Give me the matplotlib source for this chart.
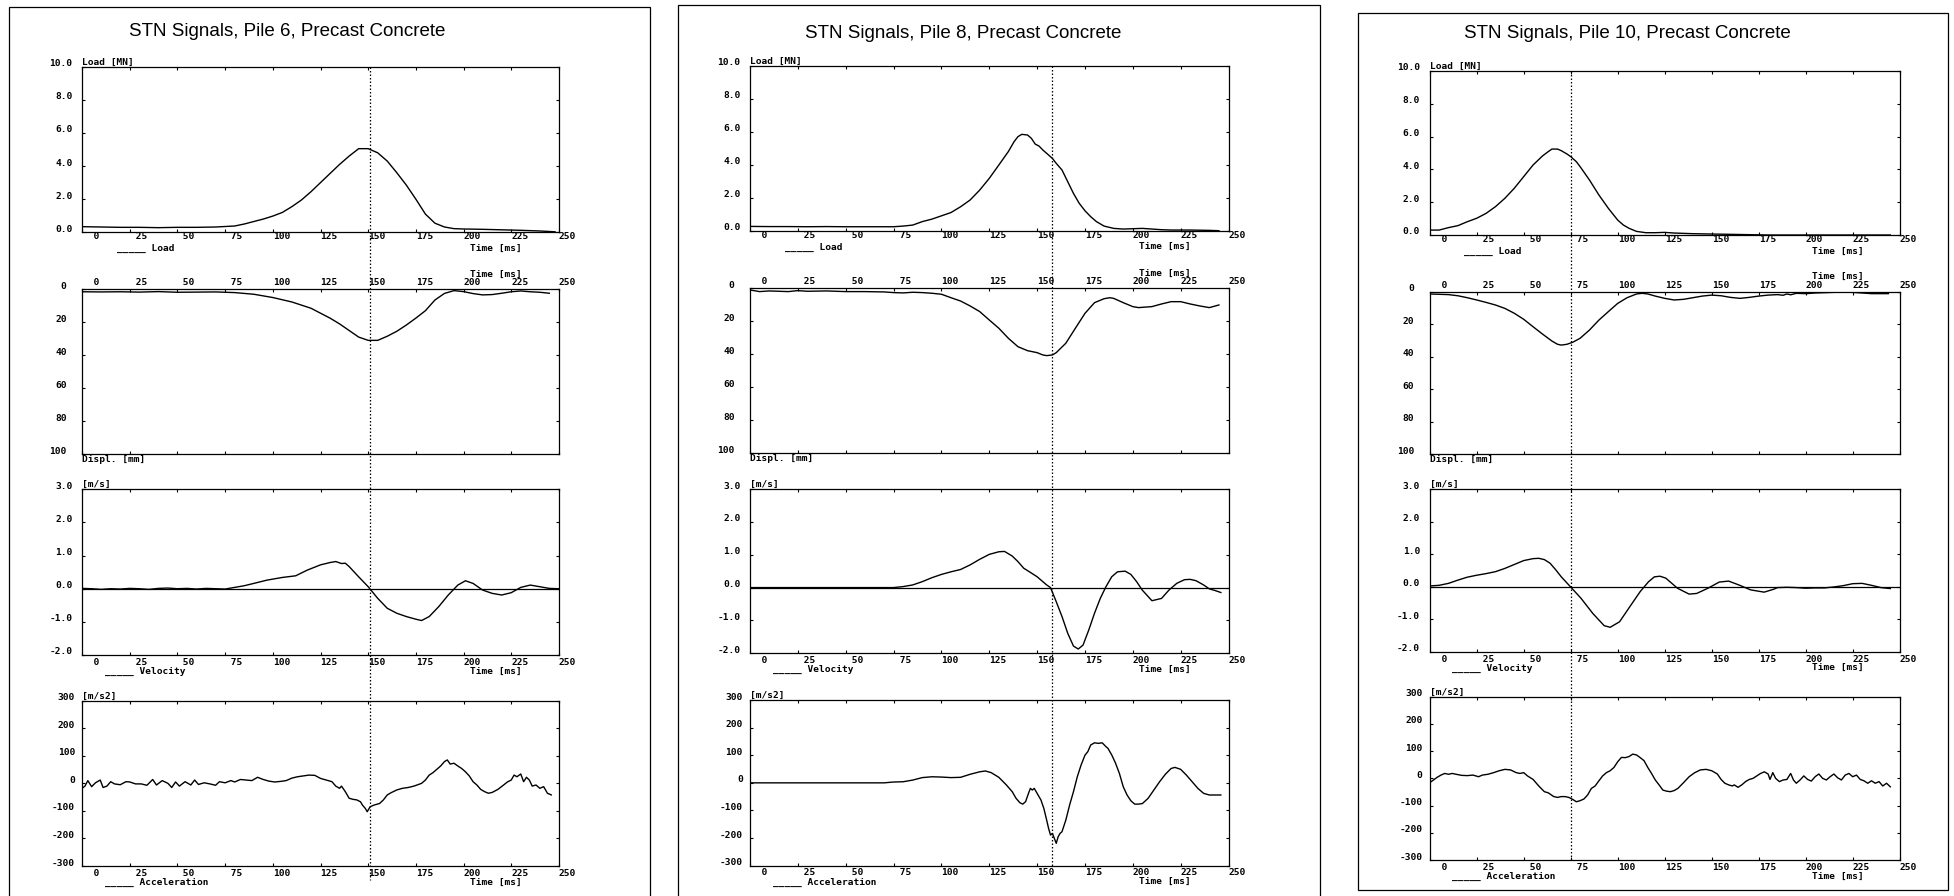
import matplotlib
matplotlib.use("Agg")
import matplotlib.pyplot as plt
import matplotlib.transforms as mtransforms
from matplotlib.patches import Rectangle

W, H = 1954, 896
MONO = "DejaVu Sans Mono"
SMALL = 6.8
plt.rcParams["font.weight"] = "bold"

# ---------------- Pile 6 ----------------
p6_load_t = [0, 10, 20, 30, 40, 50, 60, 70, 80, 85, 90, 95, 100, 105, 110, 115, 120, 125, 130, 135,
             140, 145, 150, 155, 160, 165, 170, 175, 180, 185, 190, 195, 200, 210, 220, 230, 240, 248]
p6_load = [0.34, 0.32, 0.30, 0.30, 0.28, 0.30, 0.30, 0.32, 0.38, 0.50, 0.65, 0.80, 0.98, 1.20, 1.55,
           1.95, 2.45, 3.00, 3.55, 4.10, 4.60, 5.05, 5.05, 4.80, 4.30, 3.60, 2.85, 2.00, 1.10, 0.55,
           0.32, 0.22, 0.20, 0.18, 0.15, 0.12, 0.08, 0.03]

p6_disp_t = [0, 10, 20, 30, 40, 50, 60, 70, 80, 90, 100, 110, 120, 130, 135, 140, 145, 150, 155, 160,
             165, 170, 175, 180, 185, 190, 195, 200, 205, 210, 215, 220, 225, 230, 235, 240, 245]
p6_disp = [1.5, 1.6, 1.5, 1.7, 1.4, 1.8, 1.7, 1.6, 2.0, 3.0, 5.0, 7.7, 11.5, 17.5, 21.0, 25.0, 29.0,
           31.0, 31.0, 28.5, 25.5, 21.7, 17.5, 13.0, 6.5, 2.5, 0.8, 1.4, 2.6, 3.4, 3.2, 2.4, 1.5, 1.0,
           1.5, 1.8, 2.4]

p6_vel_t = [0, 5, 10, 15, 20, 25, 30, 35, 40, 45, 50, 55, 60, 65, 70, 75, 80, 85, 90, 97, 105, 112,
            118, 125, 130, 133, 136, 138, 140, 145, 150, 155, 160, 165, 170, 175, 178, 182, 187, 192,
            197, 201, 205, 210, 215, 220, 225, 230, 235, 240, 245, 250]
p6_vel = [0.01, 0.0, -0.02, 0.0, -0.01, 0.01, 0.0, -0.02, 0.01, 0.02, 0.0, 0.01, -0.01, 0.01, 0.0,
          -0.01, 0.04, 0.09, 0.16, 0.26, 0.34, 0.39, 0.56, 0.72, 0.79, 0.82, 0.76, 0.77, 0.67, 0.36,
          0.06, -0.29, -0.59, -0.74, -0.84, -0.92, -0.96, -0.84, -0.54, -0.19, 0.11, 0.24, 0.16,
          -0.04, -0.14, -0.19, -0.12, 0.04, 0.11, 0.06, 0.01, 0.0]

p6_acc_t = [0, 1.5, 3, 5, 7, 9.5, 11, 13, 15, 17, 20, 23, 25, 28, 31, 34, 37, 39, 42, 45,
            47, 49, 51, 54, 57, 59, 61, 64, 67, 70, 72, 75, 78, 80, 83, 86, 89, 92, 95, 98,
            101, 104, 107, 110, 113, 116, 119, 122, 125, 128, 131, 133, 135, 136, 138, 140, 142, 144,
            146, 147, 148.5, 149.5, 151, 153, 156, 158, 160, 162, 165, 168, 171, 174, 176, 178, 180,
            182, 184, 186, 188, 190, 191.5, 193, 195, 197, 199, 201, 203, 205, 207, 209, 211, 213,
            215, 218, 221, 223, 225, 226.5, 228, 230, 231.5, 233, 234.5, 236, 238, 240, 242, 244, 246]
p6_acc = [-18, -10, 10, -12, 2, 12, -15, -10, 6, -2, -5, 6, 5, -2, -2, -7, 14, -6, 10, 0,
          -15, 5, -10, 6, -6, 12, -4, 2, -2, -7, 6, 2, 10, 5, 14, 12, 10, 22, 14, 8,
          5, 7, 10, 19, 24, 27, 30, 29, 18, 12, 6, -10, -18, -10, -30, -54, -58, -60, -67, -79,
          -91, -103, -85, -79, -73, -60, -42, -34, -24, -18, -15, -10, -5, 0, 12, 30, 39, 51, 63, 79,
          85, 70, 73, 63, 54, 42, 27, 6, -6, -22, -30, -36, -33, -22, -6, 5, 12, 30, 24, 34,
          6, 22, 12, -10, -6, -18, -12, -36, -42]

# ---------------- Pile 8 ----------------
p8_load_t = [0, 10, 20, 30, 40, 50, 60, 70, 75, 80, 85, 90, 95, 100, 105, 110, 115, 120, 125, 130,
             135, 138, 140, 142, 145, 147, 149, 151, 153, 155, 158, 160, 163, 166, 169, 172, 175, 178,
             181, 185, 190, 195, 200, 205, 210, 215, 220, 230, 240, 245]
p8_load = [0.26, 0.25, 0.25, 0.24, 0.25, 0.24, 0.24, 0.24, 0.24, 0.28, 0.34, 0.55, 0.70, 0.90, 1.10,
           1.45, 1.86, 2.46, 3.17, 3.98, 4.80, 5.40, 5.70, 5.84, 5.80, 5.60, 5.25, 5.13, 4.89, 4.69,
           4.38, 4.08, 3.68, 2.97, 2.26, 1.66, 1.21, 0.85, 0.55, 0.28, 0.14, 0.10, 0.12, 0.14, 0.10,
           0.06, 0.04, 0.04, 0.02, 0.0]

p8_disp_t = [0, 5, 10, 20, 25, 30, 40, 50, 60, 70, 75, 80, 85, 90, 95, 100, 105, 110, 115, 120,
             125, 130, 135, 140, 145, 150, 153, 155, 158, 160, 165, 170, 175, 180, 185, 188, 190, 195,
             200, 203, 210, 215, 220, 225, 230, 235, 240, 245]
p8_disp = [1.0, 2.0, 1.6, 2.0, 1.4, 1.8, 1.6, 2.0, 2.0, 2.2, 2.6, 2.8, 2.4, 2.6, 3.0, 3.6, 5.7, 7.7,
           10.7, 14.1, 19.2, 24.2, 30.3, 35.4, 37.8, 39.0, 40.4, 40.8, 40.4, 39.0, 33.3, 24.2, 15.2,
           8.7, 6.3, 5.7, 6.1, 8.7, 11.1, 11.7, 11.1, 9.5, 8.1, 8.1, 9.5, 10.7, 11.7, 10.1]

p8_vel_t = [0, 75, 80, 85, 90, 95, 100, 105, 110, 115, 120, 125, 130, 133, 137, 140, 143, 146, 150,
            153, 155, 157, 160, 163, 166, 169, 171.5, 174, 177, 180, 183, 186, 189, 192, 196, 199,
            202, 205, 210, 215, 219, 223, 227, 230, 233, 237, 240, 243, 246]
p8_vel = [0.0, 0.0, 0.03, 0.08, 0.18, 0.30, 0.40, 0.48, 0.55, 0.69, 0.86, 1.01, 1.09, 1.10, 0.96,
          0.79, 0.59, 0.48, 0.33, 0.18, 0.08, 0.0, -0.43, -0.88, -1.39, -1.78, -1.87, -1.75, -1.29,
          -0.78, -0.33, 0.03, 0.33, 0.48, 0.50, 0.40, 0.18, -0.08, -0.40, -0.33, -0.07, 0.13, 0.24,
          0.25, 0.21, 0.08, -0.04, -0.09, -0.15]

p8_acc_t = [0, 70, 75, 80, 85, 90, 95, 100, 105, 110, 115, 120, 123, 126, 130, 134, 137, 139, 141,
            142.5, 144, 145.5, 146.5, 147.5, 148.5, 150, 152, 153.5, 155, 156, 157, 158, 159, 160,
            161, 162, 163, 165, 167, 169, 171, 173, 175, 176.5, 178, 180, 182, 184, 186, 187, 189,
            191, 193, 195, 197, 199, 201, 203, 205, 208, 211, 214, 217, 220, 222, 225, 228, 231, 234,
            237, 240, 243, 246]
p8_acc = [0, 0, 3, 4, 10, 19, 22, 21, 19, 20, 31, 40, 43, 37, 20, -8, -32, -56, -72, -77,
          -68, -38, -20, -26, -20, -38, -62, -92, -135, -165, -189, -183, -201, -219, -195, -183,
          -177, -135, -80, -32, 22, 65, 100, 113, 137, 145, 143, 145, 131, 125, 101, 71, 34, -14,
          -44, -65, -77, -77, -75, -56, -26, 4, 31, 52, 56, 49, 28, 4, -20, -38, -44, -44, -44]

# ---------------- Pile 10 ----------------
p10_load_t = [0, 5, 10, 15, 20, 25, 30, 35, 40, 45, 50, 55, 60, 63, 65, 68, 70, 73, 75, 78,
              80, 85, 90, 95, 100, 103, 106, 110, 115, 120, 125, 130, 140, 150, 160, 170, 180, 200,
              220, 245]
p10_load = [0.30, 0.30, 0.45, 0.57, 0.81, 1.02, 1.32, 1.73, 2.24, 2.85, 3.56, 4.27, 4.82, 5.08, 5.24,
            5.24, 5.14, 4.94, 4.78, 4.47, 4.17, 3.35, 2.44, 1.63, 0.91, 0.61, 0.41, 0.22, 0.14, 0.14,
            0.16, 0.12, 0.08, 0.06, 0.04, 0.02, 0.0, 0.0, 0.0, 0.0]

p10_disp_t = [0, 10, 15, 20, 25, 30, 35, 40, 45, 50, 55, 60, 65, 68, 70, 73, 76, 80, 85, 90,
              95, 100, 105, 110, 113, 116, 120, 125, 130, 135, 140, 145, 150, 155, 160, 165, 170,
              175, 180, 185, 188, 190, 192, 195, 200, 205, 210, 215, 220, 225, 230, 235, 240, 244]
p10_disp = [1.4, 1.8, 2.5, 3.7, 5.1, 6.6, 8.2, 10.3, 13.3, 17.0, 21.6, 26.1, 30.4, 32.4, 32.9, 32.4,
            31.2, 28.7, 23.6, 17.5, 12.3, 7.2, 3.7, 1.4, 1.0, 1.4, 2.7, 4.1, 5.1, 4.7, 3.7, 2.7, 2.1,
            2.5, 3.5, 4.1, 3.5, 2.7, 2.1, 1.8, 2.2, 1.4, 1.9, 1.0, 1.2, 0.8, 0.6, 0.4, 0.2, 0.4, 0.8,
            1.2, 1.2, 1.2]

p10_vel_t = [0, 5, 10, 15, 20, 25, 30, 35, 40, 45, 50, 55, 58, 61, 64, 67, 70, 74.8, 80.5, 86.7,
             92.8, 96, 101, 107, 112, 116.4, 119.5, 122.5, 125.6, 131.8, 138, 142, 148, 154, 159,
             164.5, 170.7, 177.9, 183, 185, 190, 195, 200, 205, 210, 215, 220, 225, 230, 235, 240, 245]
p10_vel = [0.02, 0.04, 0.10, 0.20, 0.29, 0.35, 0.40, 0.46, 0.56, 0.68, 0.80, 0.86, 0.87, 0.83, 0.72,
           0.52, 0.30, 0.0, -0.36, -0.82, -1.20, -1.25, -1.08, -0.57, -0.15, 0.15, 0.30, 0.32, 0.26,
           -0.05, -0.23, -0.21, -0.05, 0.14, 0.17, 0.05, -0.10, -0.17, -0.08, -0.03, -0.02, -0.03,
           -0.05, -0.04, -0.04, -0.01, 0.03, 0.09, 0.10, 0.04, -0.03, -0.06]

p10_acc_t = [0, 2, 4, 6, 8, 10, 12, 14, 17, 20, 23, 26, 28, 31, 34, 37, 40, 43, 46, 48,
             50, 52, 55, 58, 61, 63, 66, 68, 70, 72, 74, 76, 78, 80, 82, 84, 86, 88, 90, 92,
             94, 96, 98, 100, 102, 104, 106, 108, 110, 112, 114, 116, 118, 120, 122, 124, 126, 128,
             130, 132, 135, 138, 141, 144, 147, 150, 153, 155, 157, 159, 161, 162, 164, 166, 168, 170,
             172, 174, 176, 178, 180, 181, 182.5, 184, 186, 188, 190, 192, 193.5, 195, 197, 199, 201,
             203, 205, 207, 209, 211, 213, 215, 217, 219, 221, 223, 225, 227, 229, 231, 233, 235, 237,
             239, 241, 243, 245]
p10_acc = [-16, -6, 4, 12, 18, 15, 18, 15, 11, 10, 12, 6, 12, 15, 21, 28, 33, 31, 21, 18,
           21, 9, -4, -28, -49, -53, -67, -70, -67, -67, -70, -77, -86, -82, -76, -61, -37, -28, -9, 9,
           21, 28, 40, 61, 77, 76, 80, 89, 86, 76, 65, 40, 18, -6, -24, -43, -47, -49, -45, -37,
           -16, 6, 21, 31, 33, 28, 16, -4, -18, -24, -28, -24, -33, -24, -12, -4, 0, 9, 18, 24,
           16, -4, 21, 0, -12, -6, -4, 18, -6, -18, -6, 9, -4, -10, 6, 16, 0, -6, 6, 16,
           2, -6, 12, 18, 6, 12, -4, -9, -18, -9, -18, -12, -28, -18, -31]

titles = ["STN Signals, Pile 6, Precast Concrete",
          "STN Signals, Pile 8, Precast Concrete",
          "STN Signals, Pile 10, Precast Concrete"]
mark_times = [151, 158, 75.4]
time_ticks = list(range(0, 251, 25))

piles = [
    [(p6_load_t, p6_load), (p6_disp_t, p6_disp), (p6_vel_t, p6_vel), (p6_acc_t, p6_acc)],
    [(p8_load_t, p8_load), (p8_disp_t, p8_disp), (p8_vel_t, p8_vel), (p8_acc_t, p8_acc)],
    [(p10_load_t, p10_load), (p10_disp_t, p10_disp), (p10_vel_t, p10_vel), (p10_acc_t, p10_acc)],
]

# one entry per signal row: limits, y ticks + labels, unit caption, legend text
rows = [
    dict(ylim=(0, 10), yticks=[0, 2, 4, 6, 8, 10],
         ylabels=["0.0", "2.0", "4.0", "6.0", "8.0", "10.0"], unit="Load [MN]", legend="Load",
         legend_t=18.3, ypad=9.7, xlab_dy=-4.5),
    dict(ylim=(100, 0), yticks=[0, 20, 40, 60, 80, 100],
         ylabels=["0", "20", "40", "60", "80", "100"], unit="Displ. [mm]", legend=None,
         legend_t=None, ypad=15.5, xlab_dy=6.5),
    dict(ylim=(-2, 3), yticks=[-2, -1, 0, 1, 2, 3],
         ylabels=["-2.0", "-1.0", "0.0", "1.0", "2.0", "3.0"], unit="[m/s]", legend="Velocity",
         legend_t=12.1, ypad=9.7, xlab_dy=-7.5),
    dict(ylim=(-300, 300), yticks=[-300, -200, -100, 0, 100, 200, 300],
         ylabels=["-300", "-200", "-100", "0", "100", "200", "300"], unit="[m/s2]",
         legend="Acceleration", legend_t=12.1, ypad=7.2, xlab_dy=-7),
]

# page layout in pixels
frames = [(9.3, 7, 650.3, 897), (678.4, 5, 1320.3, 897), (1357.7, 13, 1948, 890)]
plot_x = [(82.1, 558.9), (750, 1228.5), (1429.7, 1899.7)]
plot_y = [
    [(66.7, 232.3), (289.3, 454), (489.3, 655), (700.7, 866)],
    [(65.7, 230.7), (288.3, 453.3), (489, 653.3), (700, 865.7)],
    [(71, 235), (291.7, 454), (489, 651.7), (696.7, 860)],
]
title_xy = [(287, 31), (963, 33), (1627, 33)]
mark_end = [880, 866, 860]


def shift(trans, dx, dy):
    return mtransforms.offset_copy(trans, fig=fig, x=dx, y=dy, units="dots")


fig = plt.figure(figsize=(W / 100, H / 100), dpi=100)
fig.patch.set_facecolor("white")

for i in range(3):
    fl, ft, fr, fb = frames[i]
    fig.patches.append(Rectangle((fl / W, 1 - fb / H), (fr - fl) / W, (fb - ft) / H,
                                 transform=fig.transFigure, fill=False, ec="black", lw=0.9))
    fig.text(title_xy[i][0] / W, 1 - title_xy[i][1] / H, titles[i], ha="center", va="center",
             family="Liberation Sans", fontsize=13.5, fontweight="normal")

    left, right = plot_x[i]
    axes = []
    for j, row in enumerate(rows):
        top, bot = plot_y[i][j]
        ax = fig.add_axes([left / W, 1 - bot / H, (right - left) / W, (bot - top) / H])
        t, v = piles[i][j]
        ax.plot(t, v, color="black", lw=1.0)
        if j == 2:
            ax.axhline(0, color="black", lw=0.9)
        ax.set_xlim(0, 250)
        ax.set_ylim(*row["ylim"])
        ax.set_xticks(time_ticks)
        ax.set_yticks(row["yticks"])
        ax.tick_params(direction="in", length=2.5, width=0.8, top=True, right=True,
                       labelbottom=False, labelleft=False)
        for s in ax.spines.values():
            s.set_linewidth(0.9)

        # time labels, written as right-justified 3-char fields starting at each tick
        xtr = ax.get_xaxis_transform()
        ybase = 1 if j == 1 else 0
        for tk in time_ticks:
            ax.text(tk, ybase, f"{tk:3d}", transform=shift(xtr, 0, row["xlab_dy"]),
                    ha="left", va="center", family=MONO, fontsize=SMALL, clip_on=False)
        ytr = ax.get_yaxis_transform()
        for yv, yl in zip(row["yticks"], row["ylabels"]):
            ax.text(0, yv, yl, transform=shift(ytr, -row["ypad"], 3), ha="right", va="center",
                    family=MONO, fontsize=SMALL, clip_on=False)

        # unit caption and legend / time caption
        if j == 1:
            ax.text(0, 0, row["unit"], transform=shift(ax.transAxes, 0, -1), ha="left",
                    va="top", family=MONO, fontsize=SMALL)
            ax.text(200, 1, "Time [ms]", transform=shift(xtr, 6.6, 15), ha="left",
                    va="center", family=MONO, fontsize=SMALL)
        else:
            ax.text(0, 1, row["unit"], transform=shift(ax.transAxes, 0, 0), ha="left",
                    va="bottom", family=MONO, fontsize=SMALL)
            ax.text(200, 0, "Time [ms]", transform=shift(xtr, 6.6, -16), ha="left",
                    va="center", family=MONO, fontsize=SMALL)
            ax.text(row["legend_t"], 0, "_____ " + row["legend"], transform=shift(xtr, 0, -19),
                    ha="left", va="baseline", family=MONO, fontsize=SMALL)
        axes.append(ax)

    # dotted time marker through all four plots
    mtr = mtransforms.blended_transform_factory(axes[0].transData, fig.transFigure)
    top0 = plot_y[i][0][0]
    fig.lines.append(plt.Line2D([mark_times[i], mark_times[i]],
                                [1 - top0 / H, 1 - mark_end[i] / H], transform=mtr,
                                color="black", lw=0.9, ls=(0, (1.2, 1.6))))

fig.savefig("out.png", dpi=100, facecolor="white")
